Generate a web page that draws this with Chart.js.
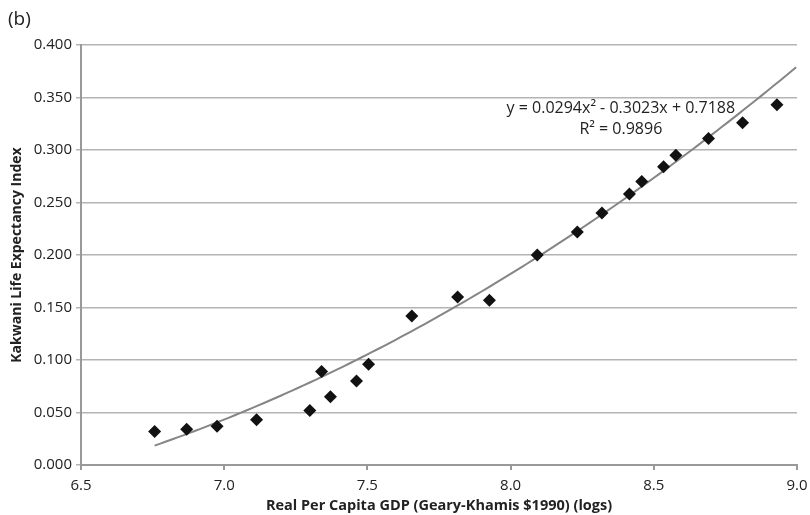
<!DOCTYPE html>
<html>
<head>
    <title>Kakwani Life Expectancy Index vs GDP</title>
    <script src="https://cdn.jsdelivr.net/npm/chart.js"></script>
    <style>
        body { margin: 0; background: #fff; }
        #wrap { width: 810px; height: 515px; }
    </style>
</head>
<body>

<div id="wrap"><canvas id="kakwaniChart" width="810" height="515"></canvas></div>

<script>
    // log real GDP per capita (x) and Kakwani index (y)
    const gdpLogs = [6.757, 6.869, 6.975, 7.113, 7.299, 7.340, 7.371, 7.462, 7.504, 7.655, 7.815,
                     7.926, 8.093, 8.233, 8.319, 8.415, 8.458, 8.534, 8.577, 8.691, 8.810, 8.930];
    const kakwani = [0.032, 0.034, 0.037, 0.043, 0.052, 0.089, 0.065, 0.080, 0.096, 0.142, 0.160,
                     0.157, 0.200, 0.222, 0.240, 0.258, 0.270, 0.284, 0.295, 0.311, 0.326, 0.343];

    // polynomial trendline shown on the chart: y = a x^2 + b x + c
    const trendCoef = [0.0294, -0.3023, 0.7188];
    const trendRange = [6.757, 9.0];
    const trendLabel = ['y = 0.0294x\u00B2 - 0.3023x + 0.7188', 'R\u00B2 = 0.9896'];

    const xTicks = [6.5, 7.0, 7.5, 8.0, 8.5, 9.0];
    const yTicks = [0, 0.05, 0.1, 0.15, 0.2, 0.25, 0.3, 0.35, 0.4];

    const trendPoints = [];
    for (let x = trendRange[0]; x <= trendRange[1] + 1e-9; x += 0.02) {
        const xv = Math.min(x, trendRange[1]);
        trendPoints.push({ x: xv, y: trendCoef[0] * xv * xv + trendCoef[1] * xv + trendCoef[2] });
    }

    const textPlugin = {
        id: 'textPlugin',
        afterDraw(chart) {
            const ctx = chart.ctx;
            const xs = chart.scales.x, ys = chart.scales.y;
            ctx.save();
            ctx.fillStyle = '#222';
            ctx.font = '19px "Open Sans"';
            ctx.textAlign = 'left';
            ctx.textBaseline = 'middle';
            ctx.fillText('(b)', 8, 20);

            // trendline equation, anchored in data space
            ctx.font = '16px "Open Sans"';
            ctx.textAlign = 'center';
            const cx = xs.getPixelForValue(8.385);
            ctx.fillText(trendLabel[0], cx, ys.getPixelForValue(0.340));
            ctx.fillText(trendLabel[1], cx, ys.getPixelForValue(0.320));
            ctx.restore();
        }
    };

    const ctx = document.getElementById('kakwaniChart').getContext('2d');
    const chart = new Chart(ctx, {
        type: 'scatter',
        data: {
            datasets: [
                {
                    label: 'Kakwani',
                    data: gdpLogs.map((x, i) => ({ x: x, y: kakwani[i] })),
                    pointStyle: 'rectRot',
                    pointRadius: 6.5,
                    backgroundColor: '#111',
                    borderColor: '#111',
                    borderWidth: 0,
                    order: 1
                },
                {
                    label: 'Trend',
                    data: trendPoints,
                    showLine: true,
                    pointRadius: 0,
                    borderColor: '#858585',
                    borderWidth: 2,
                    tension: 0,
                    order: 2
                }
            ]
        },
        options: {
            responsive: false,
            animation: false,
            layout: { padding: { left: 0, right: 13, top: 45, bottom: 0 } },
            plugins: {
                legend: { display: false },
                tooltip: { enabled: false }
            },
            scales: {
                x: {
                    type: 'linear',
                    min: 6.5,
                    max: 9.0,
                    afterBuildTicks: axis => { axis.ticks = xTicks.map(v => ({ value: v })); },
                    afterFit: axis => {
                        axis.height = 50;
                        axis.paddingLeft = 0;
                        axis.paddingRight = 0;
                    },
                    ticks: {
                        color: '#222',
                        font: { family: 'Open Sans', size: 15 },
                        padding: 7,
                        callback: v => Number(v).toFixed(1)
                    },
                    grid: { drawOnChartArea: false, drawTicks: true, tickLength: 5, color: '#999', lineWidth: 2 },
                    border: { display: true, color: '#999', width: 2 },
                    title: {
                        display: true,
                        text: 'Real Per Capita GDP (Geary-Khamis $1990) (logs)',
                        color: '#222',
                        font: { family: 'Open Sans', size: 14.5, weight: 'bold' },
                        padding: { top: 2, bottom: 0 }
                    }
                },
                y: {
                    type: 'linear',
                    min: 0,
                    max: 0.4,
                    afterBuildTicks: axis => { axis.ticks = yTicks.map(v => ({ value: v })); },
                    afterFit: axis => { axis.width = 81; },
                    ticks: {
                        color: '#222',
                        font: { family: 'Open Sans', size: 15 },
                        padding: 4,
                        callback: v => Number(v).toFixed(3)
                    },
                    grid: { color: '#b4b4b4', lineWidth: 1.5, drawTicks: true, tickLength: 5 },
                    border: { display: true, color: '#999', width: 2 },
                    title: {
                        display: true,
                        text: 'Kakwani Life Expectancy Index',
                        color: '#222',
                        font: { family: 'Open Sans', size: 14, weight: 'bold' },
                        padding: { top: 9, bottom: 2 }
                    }
                }
            }
        },
        plugins: [textPlugin]
    });
</script>

</body>
</html>
